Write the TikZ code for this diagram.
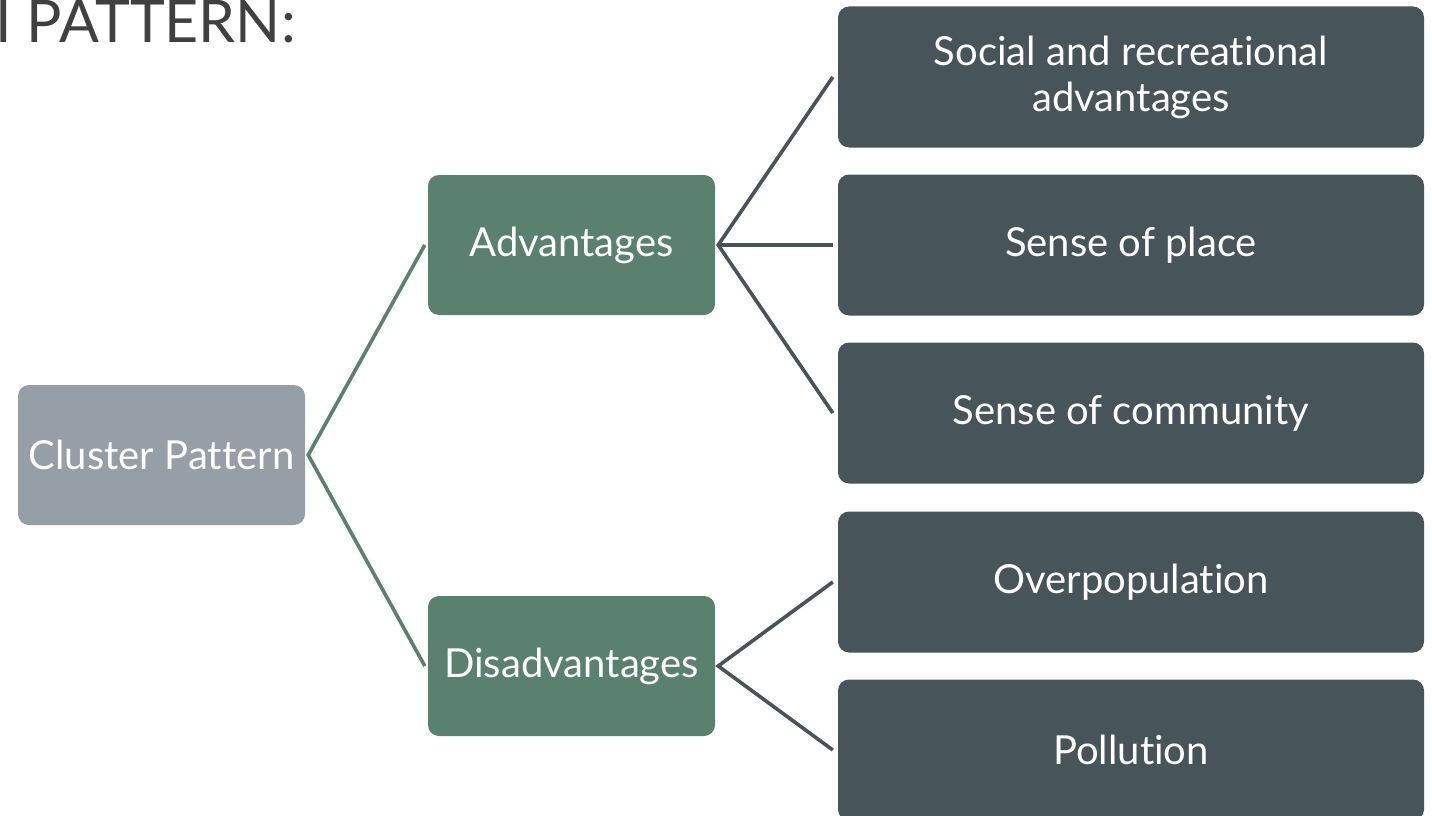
\documentclass[tikz,border=0pt]{standalone}
\usepackage{fontspec}
\setmainfont{Lato}[Ligatures={NoCommon,NoRare,NoDiscretionary}]
\definecolor{cgray}{HTML}{969EA7}
\definecolor{cgreen}{HTML}{5A816F}
\definecolor{cdark}{HTML}{47545A}
\definecolor{ctitle}{HTML}{404040}
\begin{document}
\begin{tikzpicture}[x=1pt,y=-1pt,
  box/.style={rectangle,rounded corners=11pt,text=white,inner sep=0pt,align=center,
     font=\fontsize{40}{46}\selectfont},
  lvl0/.style={box,fill=cgray,minimum width=287pt,minimum height=140pt},
  lvl1/.style={box,fill=cgreen,minimum width=287pt,minimum height=140pt},
  lvl2/.style={box,fill=cdark,minimum width=586pt,minimum height=141pt},
  link1/.style={draw=cgreen,line width=3.6pt},
  link2/.style={draw=cdark,line width=3.6pt}]
\useasboundingbox (0,0) rectangle (1432,816);
\clip (0,0) rectangle (1432,816);
\node[anchor=base west,text=ctitle,inner sep=0pt,font=\fontsize{59}{64}\selectfont] (title) at (-5,43) {I PATTERN:};
\node[lvl0] (cl) at (161.5,455) {Cluster Pattern};
\node[lvl1] (adv) at (571.5,245) {Advantages};
\node[lvl1] (dis) at (571.5,666) {Disadvantages};
\node[lvl2] (s1) at (1131,77) {Social and recreational\\advantages};
\node[lvl2] (s2) at (1131,245) {Sense of place};
\node[lvl2] (s3) at (1131,413) {Sense of community};
\node[lvl2] (d1) at (1131,582) {Overpopulation};
\node[lvl2] (d2) at (1131,750) {Pollution};
\coordinate (clo) at ([xshift=3pt]cl.east);
\coordinate (advo) at ([xshift=3pt]adv.east);
\coordinate (diso) at ([xshift=3pt]dis.east);
\draw[link1] ([xshift=-3pt]adv.west) -- (clo) -- ([xshift=-3pt]dis.west);
\draw[link2] ([xshift=-5pt]s1.west) -- (advo) -- ([xshift=-5pt]s3.west);
\draw[link2] (advo) -- ([xshift=-5pt]s2.west);
\draw[link2] ([xshift=-5pt]d1.west) -- (diso) -- ([xshift=-5pt]d2.west);
\end{tikzpicture}
\end{document}
